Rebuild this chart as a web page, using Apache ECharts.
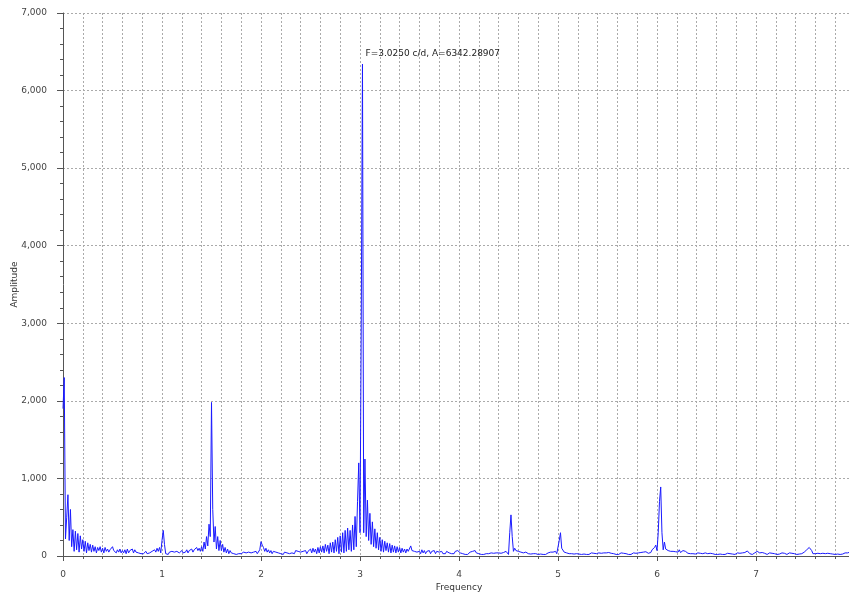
<!DOCTYPE html>
<html>
<head>
<meta charset="utf-8">
<script src="https://cdn.jsdelivr.net/npm/echarts@6/dist/echarts.min.js"></script>
<style>
html,body{margin:0;padding:0;background:#fff;}
#chart{width:849px;height:597px;}
</style>
</head>
<body>
<div id="chart"></div>
<script>
// Frequency grid (c/d): first frequency and spacing of the periodogram samples
const FREQ_START = 0;
const FREQ_STEP = 0.0125;

// Amplitude values, one row per 0.1 c/d (8 samples each)
const amplitude = [].concat(
  [1900, 2300, 220, 500, 790, 200, 600, 120],   // 0.0
  [340, 60, 320, 80, 290, 50, 260, 90],         // 0.1
  [210, 60, 190, 40, 170, 70, 150, 50],         // 0.2
  [140, 60, 120, 40, 110, 70, 120, 50],         // 0.3
  [100, 40, 110, 60, 90, 50, 80, 60],           // 0.4
  [120, 70, 90, 40, 80, 50, 90, 40],            // 0.5
  [70, 40, 80, 30, 90, 40, 70, 50],             // 0.6
  [90, 40, 80, 50, 70, 40, 60, 30],             // 0.7
  [50, 30, 40, 60, 30, 50, 40, 30],             // 0.8
  [60, 40, 80, 50, 100, 60, 110, 40],           // 0.9
  [200, 330, 150, 30, 40, 20, 50, 30],          // 1.0
  [60, 40, 50, 30, 60, 50, 40, 60],             // 1.1
  [70, 40, 60, 50, 80, 40, 70, 60],             // 1.2
  [90, 50, 80, 60, 110, 70, 100, 60],           // 1.3
  [120, 60, 180, 90, 250, 130, 410, 250],       // 1.4
  [1980, 600, 180, 380, 90, 250, 70, 200],      // 1.5
  [70, 150, 50, 110, 40, 90, 30, 70],           // 1.6
  [40, 60, 30, 50, 20, 40, 30, 50],             // 1.7
  [30, 40, 50, 30, 40, 20, 50, 40],             // 1.8
  [40, 30, 50, 40, 60, 30, 50, 80],             // 1.9
  [185, 140, 110, 60, 100, 50, 80, 40],         // 2.0
  [70, 30, 60, 40, 50, 30, 40, 50],             // 2.1
  [30, 40, 20, 50, 30, 40, 50, 30],             // 2.2
  [50, 40, 60, 30, 70, 50, 60, 40],             // 2.3
  [50, 30, 60, 40, 70, 30, 60, 50],             // 2.4
  [90, 40, 100, 50, 90, 30, 110, 40],           // 2.5
  [120, 50, 130, 40, 150, 60, 140, 30],         // 2.6
  [170, 50, 180, 40, 210, 60, 240, 30],         // 2.7
  [260, 50, 300, 40, 330, 60, 360, 80],         // 2.8
  [330, 60, 400, 80, 510, 120, 700, 1200],      // 2.9
  [300, 3000, 6342.28907, 300, 1250, 250, 720, 200], // 3.0
  [550, 150, 440, 120, 350, 100, 300, 80],      // 3.1
  [240, 60, 210, 50, 190, 70, 170, 50],         // 3.2
  [160, 40, 140, 50, 130, 40, 120, 50],         // 3.3
  [110, 40, 100, 50, 90, 40, 90, 60],           // 3.4
  [80, 130, 70, 90, 60, 80, 50, 70],            // 3.5
  [60, 30, 80, 40, 70, 30, 60, 40],             // 3.6
  [70, 30, 60, 40, 70, 30, 60, 40],             // 3.7
  [50, 30, 60, 30, 50, 30, 60, 40],             // 3.8
  [40, 60, 30, 50, 30, 60, 40, 70],             // 3.9
  [70, 40, 50, 30, 40, 20, 40, 20],             // 4.0
  [30, 50, 40, 60, 50, 70, 40, 50],             // 4.1
  [30, 40, 20, 40, 20, 40, 30, 20],             // 4.2
  [30, 15, 40, 20, 35, 20, 40, 25],             // 4.3
  [40, 55, 35, 50, 45, 70, 60, 75],             // 4.4
  [20, 300, 530, 250, 60, 100, 70, 90],         // 4.5
  [60, 80, 50, 70, 40, 60, 50, 40],             // 4.6
  [30, 40, 25, 50, 30, 45, 30, 40],             // 4.7
  [20, 35, 25, 40, 20, 30, 20, 35],             // 4.8
  [40, 25, 50, 35, 50, 40, 60, 30],             // 4.9
  [20, 200, 300, 100, 80, 50, 60, 40],          // 5.0
  [50, 30, 45, 30, 50, 25, 40, 30],             // 5.1
  [40, 25, 35, 20, 40, 25, 35, 20],             // 5.2
  [30, 20, 35, 40, 25, 35, 20, 30],             // 5.3
  [30, 40, 25, 35, 20, 40, 25, 40],             // 5.4
  [30, 45, 50, 35, 45, 30, 35, 20],             // 5.5
  [35, 20, 30, 40, 25, 35, 20, 30],             // 5.6
  [30, 20, 35, 20, 30, 40, 25, 35],             // 5.7
  [30, 40, 25, 45, 35, 50, 40, 55],             // 5.8
  [50, 35, 60, 45, 80, 55, 110, 140],           // 5.9
  [70, 300, 700, 890, 300, 80, 180, 90],        // 6.0
  [110, 70, 90, 60, 80, 60, 80, 55],            // 6.1
  [70, 50, 80, 45, 60, 70, 45, 60],             // 6.2
  [50, 35, 50, 30, 45, 30, 40, 25],             // 6.3
  [30, 40, 25, 35, 20, 30, 25, 40],             // 6.4
  [40, 30, 50, 35, 45, 30, 35, 20],             // 6.5
  [30, 20, 35, 25, 30, 20, 35, 20],             // 6.6
  [25, 35, 20, 30, 40, 25, 35, 20],             // 6.7
  [30, 40, 25, 35, 25, 40, 30, 45],             // 6.8
  [50, 65, 40, 30, 35, 20, 35, 40],             // 6.9
  [50, 60, 70, 40, 35, 45, 30, 35],             // 7.0
  [30, 20, 35, 40, 25, 35, 20, 30],             // 7.1
  [30, 20, 35, 25, 30, 40, 25, 35],             // 7.2
  [30, 20, 35, 40, 25, 35, 20, 30],             // 7.3
  [30, 20, 35, 25, 40, 30, 40, 50],             // 7.4
  [60, 80, 100, 110, 130, 70, 30, 35],          // 7.5
  [30, 20, 35, 25, 30, 20, 35, 20],             // 7.6
  [30, 20, 35, 25, 30, 40, 25, 35],             // 7.7
  [20, 35, 25, 30, 20, 35, 25, 30],             // 7.8
  [40, 50, 40, 50, 50]                          // 7.9
);

// Peak annotation
const peakFreq = 3.025;
const peakAmp = 6342.28907;
const peakText = 'F=3.0250 c/d, A=6342.28907';

// Axis settings
const xTitle = 'Frequency';
const yTitle = 'Amplitude';
const xMin = 0, xMax = 8, xInterval = 1;
const yMin = 0, yMax = 7000, yInterval = 1000;

const seriesData = amplitude.map((a, i) => [FREQ_START + i * FREQ_STEP, a]);

const FONT = 'DejaVu Sans';
const axisColor = '#555555';
const labelColor = '#444444';
const gridLine = {show: true, lineStyle: {color: '#aaaaaa', type: [2, 2], width: 1}};

const chart = echarts.init(document.getElementById('chart'), null, {renderer: 'canvas'});
chart.setOption({
  animation: false,
  backgroundColor: '#ffffff',
  grid: {left: 63, top: 13, width: 792, height: 543, containLabel: false, outerBoundsMode: 'none'},
  xAxis: {
    type: 'value', min: xMin, max: xMax, interval: xInterval, offset: 6,
    name: xTitle, nameLocation: 'middle', nameGap: 21, nameMoveOverlap: false,
    nameTextStyle: {fontFamily: FONT, fontSize: 9, color: '#333'},
    axisLine: {show: true, lineStyle: {color: axisColor, width: 1}},
    axisTick: {show: true, length: 5, lineStyle: {color: axisColor}},
    minorTick: {show: true, splitNumber: 5, length: 3, lineStyle: {color: axisColor}},
    axisLabel: {fontFamily: FONT, fontSize: 9, color: labelColor, margin: 8},
    splitLine: gridLine,
    minorSplitLine: gridLine
  },
  yAxis: {
    type: 'value', min: yMin, max: yMax, interval: yInterval, offset: 6,
    name: yTitle, nameLocation: 'middle', nameGap: 38, nameRotate: 90, nameMoveOverlap: false,
    nameTextStyle: {fontFamily: FONT, fontSize: 9, color: '#333'},
    axisLine: {show: true, lineStyle: {color: axisColor, width: 1}},
    axisTick: {show: true, length: 6, lineStyle: {color: axisColor}},
    minorTick: {show: true, splitNumber: 5, length: 3, lineStyle: {color: axisColor}},
    axisLabel: {fontFamily: FONT, fontSize: 9, color: labelColor, margin: 10,
      formatter: v => Number(v).toLocaleString('en-US')},
    splitLine: gridLine,
    minorSplitLine: {show: false}
  },
  series: [{
    type: 'line',
    data: seriesData,
    showSymbol: false,
    symbol: 'none',
    sampling: null,
    lineStyle: {color: '#1a1aff', width: 1},
    itemStyle: {color: '#1a1aff'},
    markPoint: {
      symbol: 'circle', symbolSize: 0,
      silent: true,
      data: [{coord: [peakFreq, peakAmp]}],
      label: {
        show: true, position: 'right', distance: 3, offset: [0, -10],
        formatter: peakText,
        fontFamily: FONT, fontSize: 9, color: '#222'
      }
    }
  }]
});
</script>
</body>
</html>
